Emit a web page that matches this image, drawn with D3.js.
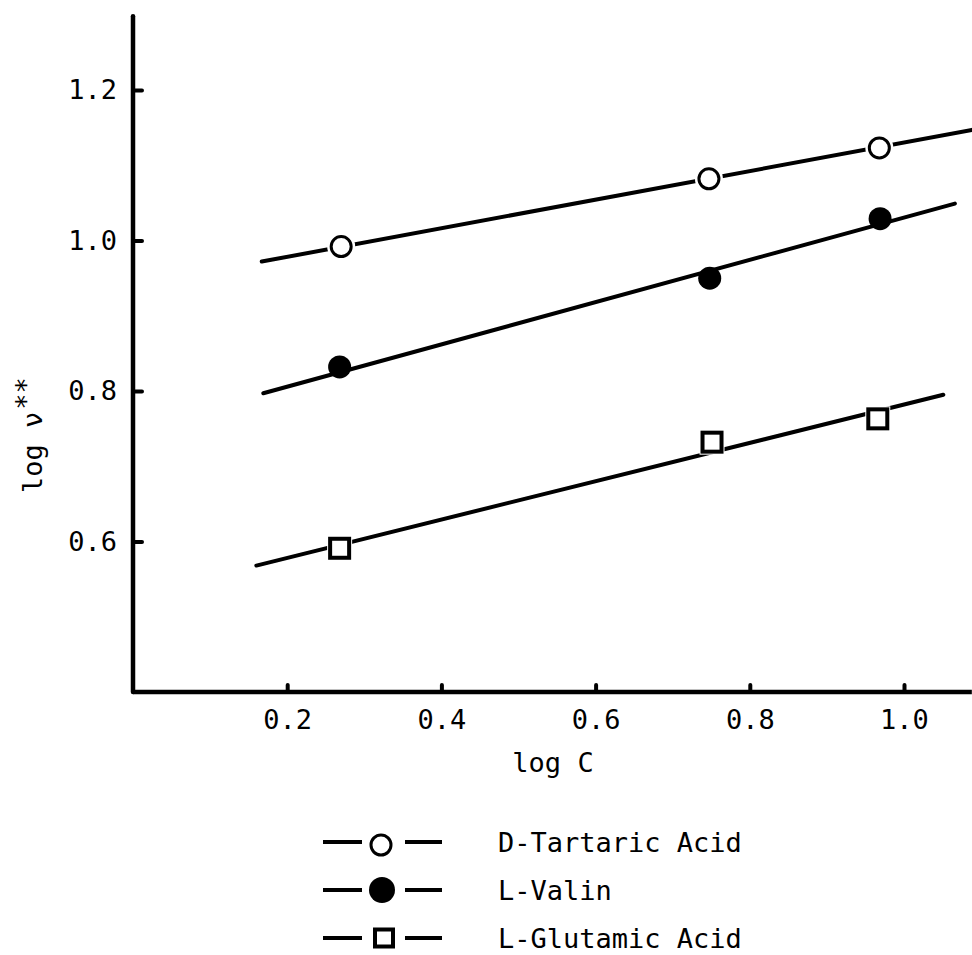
<!DOCTYPE html>
<html>
<head>
<meta charset="utf-8">
<script src="https://cdn.jsdelivr.net/npm/d3@7"></script>
<style>
  html, body { margin: 0; padding: 0; background: #fff; }
  svg { display: block; }
  text { font-family: "DejaVu Sans Mono", monospace; fill: #000; }
</style>
</head>
<body>
<svg id="chart" width="972" height="955"></svg>
<script>
// Measured points (log C, log v)
const seriesNames = ["D-Tartaric Acid", "L-Valin", "L-Glutamic Acid"];
const tartaricPoints = [[0.270, 0.992], [0.747, 1.082], [0.968, 1.123]];
const valinPoints    = [[0.268, 0.832], [0.748, 0.950], [0.969, 1.029]];
const glutamicPoints = [[0.268, 0.591], [0.751, 0.732], [0.966, 0.763]];

// Fitted straight lines (end points)
const tartaricFit = [[0.167, 0.972], [1.088, 1.147]];
const valinFit    = [[0.169, 0.797], [1.066, 1.049]];
const glutamicFit = [[0.160, 0.568], [1.051, 0.795]];

// Axis ticks
const xTicks = [0.2, 0.4, 0.6, 0.8, 1.0];
const yTicks = [0.6, 0.8, 1.0, 1.2];

const svg = d3.select("#chart");
const FS = 27;

const x = d3.scaleLinear().domain([0, 1.0]).range([133, 904]);
const y = d3.scaleLinear().domain([0.4, 1.2]).range([692, 90]);

// Axis extents
const xEnd = 1.088, yTop = 1.298;

const ink = "#000";
const axisW = 4.5;

// Axes with inward ticks
const gy = svg.append("g").attr("transform", `translate(${x(0)},0)`)
  .call(d3.axisLeft(y).tickValues(yTicks).tickSize(-9).tickPadding(16)
    .tickFormat(d3.format(".1f")));
const gx = svg.append("g").attr("transform", `translate(0,${y(0.4)})`)
  .call(d3.axisBottom(x).tickValues(xTicks).tickSize(-7).tickPadding(18)
    .tickFormat(d3.format(".1f")));
[gy, gx].forEach(g => {
  g.select(".domain").remove();
  g.selectAll(".tick line").attr("stroke", ink).attr("stroke-width", 4)
    .attr("stroke-linecap", "round");
  g.selectAll(".tick text").attr("font-size", FS)
    .attr("font-family", "DejaVu Sans Mono").attr("fill", ink);
});

svg.append("line")
  .attr("x1", x(0)).attr("x2", x(0))
  .attr("y1", y(yTop)).attr("y2", y(0.4))
  .attr("stroke", ink).attr("stroke-width", axisW).attr("stroke-linecap", "round");
svg.append("line")
  .attr("x1", x(0)).attr("x2", x(xEnd))
  .attr("y1", y(0.4)).attr("y2", y(0.4))
  .attr("stroke", ink).attr("stroke-width", axisW);

// Axis titles
svg.append("text")
  .attr("x", 553).attr("y", 772)
  .attr("text-anchor", "middle").attr("font-size", FS)
  .text("log C");

const yl = svg.append("text")
  .attr("transform", "translate(42,493) rotate(-90)")
  .attr("font-size", FS);
yl.append("tspan").text("log ν");
yl.append("tspan").attr("dy", -7).attr("dx", 2).text("**");

// Fitted lines
const line = d3.line().x(d => x(d[0])).y(d => y(d[1]));
[tartaricFit, valinFit, glutamicFit].forEach(f => {
  svg.append("path").attr("d", line(f))
    .attr("fill", "none").attr("stroke", ink)
    .attr("stroke-width", 4).attr("stroke-linecap", "round");
});

// Markers
function openCircle(g, cx, cy, r) {
  g.append("circle").attr("cx", cx).attr("cy", cy).attr("r", r + 4).attr("fill", "#fff");
  g.append("circle").attr("cx", cx).attr("cy", cy).attr("r", r)
    .attr("fill", "#fff").attr("stroke", ink).attr("stroke-width", 3);
}
function filledCircle(g, cx, cy, r) {
  g.append("circle").attr("cx", cx).attr("cy", cy).attr("r", r).attr("fill", ink);
}
function openSquare(g, cx, cy, w, h) {
  g.append("rect").attr("x", cx - w / 2 - 3).attr("y", cy - h / 2 - 3)
    .attr("width", w + 6).attr("height", h + 6).attr("fill", "#fff");
  g.append("rect").attr("x", cx - w / 2).attr("y", cy - h / 2)
    .attr("width", w).attr("height", h)
    .attr("fill", "#fff").attr("stroke", ink).attr("stroke-width", 4);
}

const marks = svg.append("g");
tartaricPoints.forEach(d => openCircle(marks, x(d[0]), y(d[1]), 10));
valinPoints.forEach(d => filledCircle(marks, x(d[0]), y(d[1]), 11.5));
glutamicPoints.forEach(d => openSquare(marks, x(d[0]), y(d[1]), 19, 19));

// Legend
const legendRows = [842, 890, 938];
const leg = svg.append("g");
seriesNames.forEach((name, i) => {
  const cy = legendRows[i];
  leg.append("line").attr("x1", 323).attr("x2", 362).attr("y1", cy).attr("y2", cy)
    .attr("stroke", ink).attr("stroke-width", 4);
  leg.append("line").attr("x1", 405).attr("x2", 442).attr("y1", cy).attr("y2", cy)
    .attr("stroke", ink).attr("stroke-width", 4);
  if (i === 0) openCircle(leg, 381, cy + 3, 10);
  if (i === 1) filledCircle(leg, 382, cy, 13);
  if (i === 2) openSquare(leg, 384, cy, 18, 17);
  leg.append("text").attr("x", 498).attr("y", cy + 10)
    .attr("font-size", FS).text(name);
});
</script>
</body>
</html>
